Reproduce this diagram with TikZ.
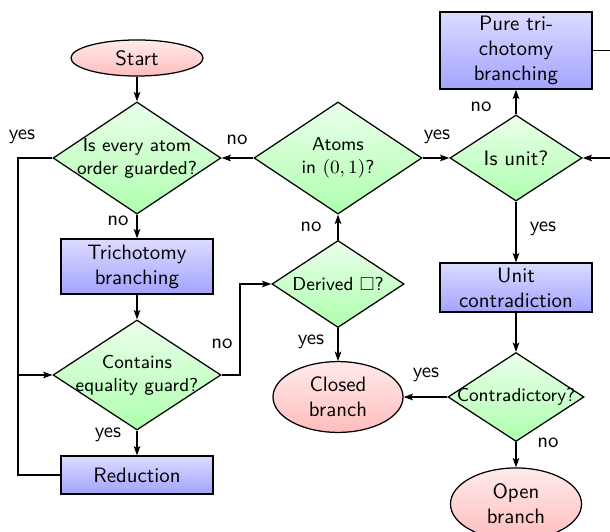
\documentclass[tikz,border=0pt]{standalone}
\usepackage{amssymb}
\usetikzlibrary{shapes.geometric,arrows.meta}
\begin{document}
\begin{tikzpicture}[x=0.48pt,y=-0.48pt,
  font=\sffamily,
  every node/.style={align=center},
  line width=0.6pt,
  arr/.style={-{Stealth[length=4.5pt,width=3.2pt,inset=1pt]}},
  decision/.style={diamond,draw,aspect=1.5,inner sep=-30pt,font=\sffamily\small,
    top color=green!8,bottom color=green!32},
  process/.style={rectangle,draw,inner sep=1pt,minimum width=73pt,
    top color=blue!14,bottom color=blue!36},
  terminal/.style={ellipse,draw,inner sep=0pt,
    top color=red!8,bottom color=red!26},
  lab/.style={inner sep=0pt}]
\useasboundingbox (0,0) rectangle (610,532);

% nodes
\node[terminal,minimum width=63.4pt,minimum height=17.3pt] (start) at (137,58) {Start};
\node[decision,minimum width=80.6pt,minimum height=53.8pt] (d1) at (137,158) {Is every atom\\order guarded?};
\node[process,minimum height=26.4pt] (trich) at (137,266.5) {Trichotomy\\branching};
\node[decision,minimum width=80.6pt,minimum height=52.8pt] (d2) at (137,375) {Contains\\equality guard?};
\node[process,minimum height=18.2pt] (red) at (137,475) {Reduction};
\node[decision,minimum width=80.6pt,minimum height=53.8pt] (atoms) at (338,158) {Atoms\\in $(0,1)$?};
\node[decision,minimum width=63.4pt,minimum height=41.8pt] (derived) at (338,284) {Derived $\Box$?};
\node[terminal,minimum width=62.4pt,minimum height=34pt] (closed) at (338,397) {Closed\\branch};
\node[decision,minimum width=63.4pt,minimum height=41.3pt,font=\sffamily] (isunit) at (516,158) {Is unit?};
\node[process,minimum height=37pt] (pure) at (516,50.5) {Pure tri-\\chotomy\\branching};
\node[process,minimum height=23.5pt] (unitc) at (516,287.5) {Unit\\contradiction};
\node[decision,minimum width=65.3pt,minimum height=42.7pt] (contra) at (516,397) {Contradictory?};
\node[terminal,minimum width=62.9pt,minimum height=34.6pt] (open) at (516,504) {Open\\branch};

% helper coordinates
\coordinate (L) at (18,375);
\coordinate (R) at (240,375);
\coordinate (E) at (640,50.5);

% connectors
\draw[arr] (start) -- (d1);
\draw[arr] (d1) -- (trich);
\draw[arr] (trich) -- (d2);
\draw[arr] (d2) -- (red);
\draw[arr] (d1.west) -| (L) -- (d2.west);
\draw (red.west) -| (L);
\draw[arr] (d2.east) -- (R) |- (derived.west);
\draw[arr] (derived) -- (atoms);
\draw[arr] (derived) -- (closed);
\draw[arr] (atoms) -- (d1);
\draw[arr] (atoms) -- (isunit);
\draw[arr] (isunit) -- (pure);
\draw[arr] (isunit) -- (unitc);
\draw[arr] (unitc) -- (contra);
\draw[arr] (contra) -- (closed);
\draw[arr] (contra) -- (open);
\draw[arr] (pure.east) -- (E) |- (isunit.east);

% labels
\node[lab] (l1) at (22,137) {yes};
\node[lab] (l2) at (118,221) {no};
\node[lab] (l3) at (237,140) {no};
\node[lab] (l4) at (437,137) {yes};
\node[lab] (l5) at (481,107) {no};
\node[lab] (l6) at (311,227) {no};
\node[lab] (l7) at (543,229) {yes};
\node[lab] (l8) at (222,344) {no};
\node[lab] (l9) at (311,342) {yes};
\node[lab] (l10) at (426,375) {yes};
\node[lab] (l11) at (108,435) {yes};
\node[lab] (l12) at (548,443) {no};
\end{tikzpicture}
\end{document}
